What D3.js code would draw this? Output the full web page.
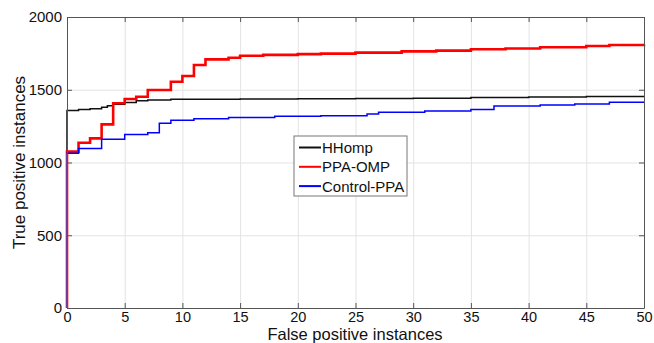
<!DOCTYPE html>
<html>
<head>
<meta charset="utf-8">
<script src="https://cdn.jsdelivr.net/npm/d3@7"></script>
<style>
  body { margin: 0; background: #fff; }
  text { font-family: "Liberation Sans", Arial, sans-serif; fill: #111; }
</style>
</head>
<body>
<div id="chart"></div>
<script>
// Data: [false positives, true positives] step points
const hhomp = [
  [0, 0], [0, 1358], [1, 1365], [2, 1370], [3, 1380], [3.5, 1390], [4, 1400],
  [5, 1412], [6, 1425], [7, 1430], [9, 1434], [15, 1436], [20, 1438],
  [25, 1440], [30, 1442], [35, 1447], [40, 1450], [45, 1453], [50, 1457]
];
const ppaOmp = [
  [0, 0], [0, 1075], [1, 1136], [2, 1166], [3, 1262], [4, 1407], [5, 1436],
  [6, 1452], [7, 1498], [9, 1555], [10, 1594], [11, 1670], [12, 1709],
  [14, 1720], [15, 1734], [17, 1740], [20, 1745], [22, 1748], [25, 1755],
  [29, 1764], [32, 1769], [35, 1778], [38, 1784], [41, 1792], [45, 1801],
  [47, 1808], [50, 1810]
];
const controlPpa = [
  [0, 0], [0, 1063], [1, 1097], [3, 1159], [5, 1193], [7, 1205], [8, 1269],
  [9, 1290], [11, 1300], [14, 1310], [18, 1318], [22, 1322], [26, 1333],
  [27, 1345], [31, 1354], [35, 1365], [37, 1388], [41, 1395], [44, 1402],
  [47, 1414], [50, 1418]
];
const seriesNames = ["HHomp", "PPA-OMP", "Control-PPA"];
const xTicks = [0, 5, 10, 15, 20, 25, 30, 35, 40, 45, 50];
const yTicks = [0, 500, 1000, 1500, 2000];

// set the dimensions and margins of the graph
const W = 654, H = 343;
const margin = { top: 17, right: 10, bottom: 35, left: 67 };
const width = W - margin.left - margin.right;
const height = H - margin.top - margin.bottom;

const svg = d3.select("#chart").append("svg")
    .attr("width", W)
    .attr("height", H);

const chart = svg.append("g")
    .attr("transform", "translate(" + margin.left + "," + margin.top + ")");

const x = d3.scaleLinear().domain([0, 50]).range([0, width]);
const y = d3.scaleLinear().domain([0, 2000]).range([height, 0]);
const fmt = d3.format("d");

// grid lines
chart.append("g")
    .attr("class", "grid")
    .call(d3.axisBottom(x).tickValues(xTicks).tickSize(height).tickFormat(""))
    .call(g => g.select(".domain").remove())
    .selectAll("line").attr("stroke", "#e3e3e3");
chart.append("g")
    .attr("class", "grid")
    .call(d3.axisLeft(y).tickValues(yTicks).tickSize(-width).tickFormat(""))
    .call(g => g.select(".domain").remove())
    .selectAll("line").attr("stroke", "#e3e3e3");

// Lines
const line = d3.line()
    .x(d => x(d[0]))
    .y(d => y(d[1]))
    .curve(d3.curveStepAfter);

const series = [
  { name: seriesNames[0], data: hhomp, color: "#111", w: 1.5 },
  { name: seriesNames[1], data: ppaOmp, color: "#ff0000", w: 2.6 },
  { name: seriesNames[2], data: controlPpa, color: "#0000ff", w: 1.5 }
];

series.forEach(s => {
  chart.append("path")
      .datum(s.data)
      .attr("fill", "none")
      .attr("stroke", s.color)
      .attr("stroke-width", s.w)
      .attr("d", line);
});

// purple overlap at x = 0
chart.append("line")
    .attr("x1", x(0)).attr("x2", x(0))
    .attr("y1", y(0)).attr("y2", y(1063))
    .attr("stroke", "#7a3a9a")
    .attr("stroke-width", 2);

// Axes (box with inward ticks)
const axisColor = "#555";
function styleAxis(g) {
  g.select(".domain").attr("stroke", axisColor);
  g.selectAll(".tick line").attr("stroke", axisColor);
}
chart.append("g")
    .attr("transform", "translate(0," + height + ")")
    .call(d3.axisBottom(x).tickValues(xTicks).tickFormat(fmt).tickSizeInner(-5).tickSizeOuter(0).tickPadding(4))
    .call(styleAxis)
    .selectAll("text").attr("font-size", 14.5).attr("fill", "#111")
    .style("font-family", "Liberation Sans, Arial, sans-serif");
chart.append("g")
    .call(d3.axisTop(x).tickValues(xTicks).tickSizeInner(-5).tickSizeOuter(0).tickFormat(""))
    .call(styleAxis);
chart.append("g")
    .call(d3.axisLeft(y).tickValues(yTicks).tickFormat(fmt).tickSizeInner(-5).tickSizeOuter(0).tickPadding(5))
    .call(styleAxis)
    .selectAll("text").attr("font-size", 15).attr("fill", "#111")
    .style("font-family", "Liberation Sans, Arial, sans-serif");
chart.append("g")
    .attr("transform", "translate(" + width + ",0)")
    .call(d3.axisRight(y).tickValues(yTicks).tickSizeInner(-5).tickSizeOuter(0).tickFormat(""))
    .call(styleAxis);

// Legend
const legend = chart.append("g")
    .attr("transform", "translate(" + (294 - margin.left) + "," + (136 - margin.top) + ")");
legend.append("rect")
    .attr("width", 113)
    .attr("height", 60)
    .attr("fill", "#fff")
    .attr("stroke", "#777")
    .attr("stroke-width", 1);
series.forEach((s, i) => {
  const ly = 11.5 + i * 19.3;
  legend.append("line")
      .attr("x1", 5).attr("x2", 27)
      .attr("y1", ly).attr("y2", ly)
      .attr("stroke", s.color)
      .attr("stroke-width", 2);
  legend.append("text")
      .attr("x", 28)
      .attr("y", ly + 5.5)
      .attr("font-size", 15)
      .text(s.name);
});

// Label for xAxis
svg.append("text")
    .attr("x", 355)
    .attr("y", 340)
    .attr("text-anchor", "middle")
    .attr("font-size", 16.5)
    .text("False positive instances");

// Label for yAxis
svg.append("text")
    .attr("transform", "translate(25," + (margin.top + height / 2) + ") rotate(-90)")
    .attr("text-anchor", "middle")
    .attr("font-size", 17)
    .text("True positive instances");
</script>
</body>
</html>
